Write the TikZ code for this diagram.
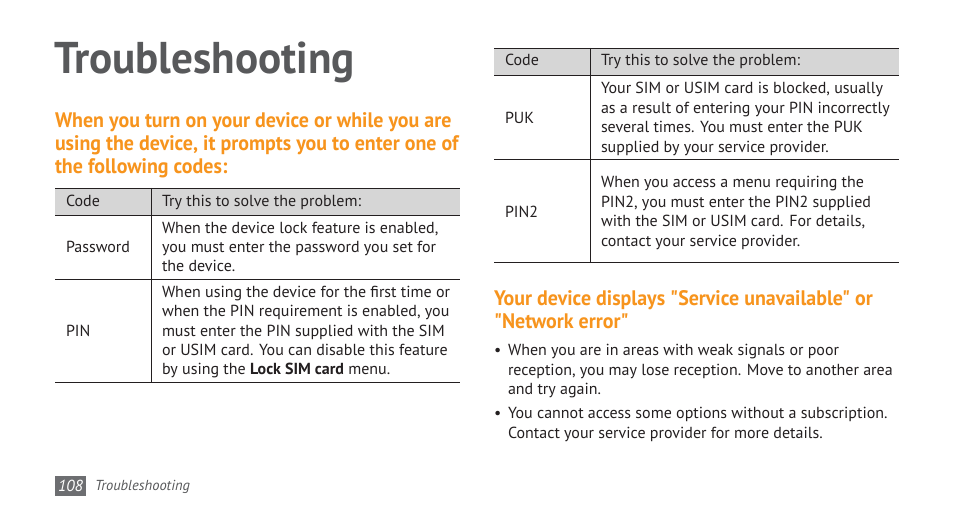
\documentclass[tikz,border=0pt]{standalone}
\usepackage{fontspec}
\setmainfont{PT Sans}
\newfontfamily\headfont[FakeStretch=0.95]{PT Sans}
\newfontfamily\titlefont[FakeStretch=0.97]{PT Sans}
\definecolor{ink}{HTML}{231F20}
\definecolor{orng}{HTML}{F7941D}
\definecolor{ttl}{HTML}{58595B}
\definecolor{hdr}{HTML}{D6D6D6}
\definecolor{ftbox}{HTML}{6D6E71}
\begin{document}
\begin{tikzpicture}[x=1pt,y=-1pt,
  txt/.style={anchor=base west,inner sep=0pt,outer sep=0pt,font=\fontsize{16}{19}\selectfont,text=ink},
  head/.style={anchor=base west,inner sep=0pt,outer sep=0pt,font=\headfont\fontsize{21}{23}\selectfont\bfseries,text=orng},
  rule/.style={draw=ink,line width=0.9pt},
  vrule/.style={draw=ink,line width=0.8pt}]
\useasboundingbox[fill=white] (0,0) rectangle (954,518);

% title
\node[anchor=base west,inner sep=0pt,font=\titlefont\fontsize{44.5}{50}\selectfont\bfseries,text=ttl] (title) at (54,74) {Troubleshooting};

% heading 1
\node[head] (h1a) at (55,128) {When you turn on your device or while you are};
\node[head] (h1b) at (55,151) {using the device, it prompts you to enter one of};
\node[head] (h1c) at (55,174) {the following codes:};

% left table
\fill[hdr] (55,188) rectangle (460,215);
\draw[rule] (55,188) -- (460,188);
\draw[rule] (55,215) -- (460,215);
\draw[rule] (55,279) -- (460,279);
\draw[rule] (55,382) -- (460,382);
\draw[vrule] (151,188) -- (151,382);

\node[txt] (lc) at (66,207) {Code};
\node[txt] (lt) at (162,207) {Try this to solve the problem:};
\node[txt] (pw) at (66,253) {Password};
\node[txt] (pw1) at (162,234) {When the device lock feature is enabled,};
\node[txt] (pw2) at (162,253) {you must enter the password you set for};
\node[txt] (pw3) at (162,272) {the device.};
\node[txt] (pin) at (66,337) {PIN};
\node[txt] (pin1) at (162,298) {When using the device for the first time or};
\node[txt] (pin2) at (162,317) {when the PIN requirement is enabled, you};
\node[txt] (pin3) at (162,336.5) {must enter the PIN supplied with the SIM};
\node[txt] (pin4) at (162,356) {or USIM card. You can disable this feature};
\node[txt] (pin5) at (162,375) {by using the \textbf{Lock SIM card} menu.};

% right table
\fill[hdr] (494,48) rectangle (899,75);
\draw[rule] (494,48) -- (899,48);
\draw[rule] (494,75) -- (899,75);
\draw[rule] (494,159) -- (899,159);
\draw[rule] (494,262) -- (899,262);
\draw[vrule] (590,48) -- (590,262);

\node[txt] (rc) at (505,66) {Code};
\node[txt] (rt) at (601,66) {Try this to solve the problem:};
\node[txt] (puk) at (505,124) {PUK};
\node[txt] (puk1) at (601,94) {Your SIM or USIM card is blocked, usually};
\node[txt] (puk2) at (601,113.5) {as a result of entering your PIN incorrectly};
\node[txt] (puk3) at (601,133) {several times. You must enter the PUK};
\node[txt] (puk4) at (601,152.5) {supplied by your service provider.};
\node[txt] (pintwo) at (505,218) {PIN2};
\node[txt] (pt1) at (601,188) {When you access a menu requiring the};
\node[txt] (pt2) at (601,207.5) {PIN2, you must enter the PIN2 supplied};
\node[txt] (pt3) at (601,227) {with the SIM or USIM card. For details,};
\node[txt] (pt4) at (601,246.5) {contact your service provider.};

% heading 2
\node[head] (h2a) at (494,306) {Your device displays \symbol{34}Service unavailable\symbol{34} or};
\node[head] (h2b) at (494,329) {\symbol{34}Network error\symbol{34}};

% bullets
\node[txt] (b1) at (494,356) {\textbullet};
\node[txt] (b1a) at (508,356) {When you are in areas with weak signals or poor};
\node[txt] (b1b) at (508,375.5) {reception, you may lose reception. Move to another area};
\node[txt] (b1c) at (508,395) {and try again.};
\node[txt] (b2) at (494,419) {\textbullet};
\node[txt] (b2a) at (508,419) {You cannot access some options without a subscription.};
\node[txt] (b2b) at (508,438.5) {Contact your service provider for more details.};

% footer
\fill[ftbox] (55,476) rectangle (86,496);
\node[anchor=base,inner sep=0pt,font=\fontsize{16}{18}\selectfont\itshape,text=white] (pg) at (70.5,492) {108};
\node[anchor=base west,inner sep=0pt,font=\fontsize{14.5}{17}\selectfont\itshape,text=ttl] (ft) at (95,491) {Troubleshooting};
\end{tikzpicture}
\end{document}
